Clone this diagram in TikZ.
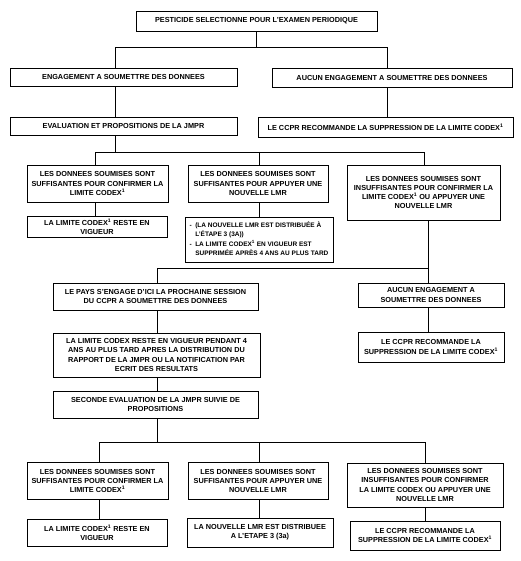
\documentclass[tikz,border=0pt]{standalone}
\usepackage{fontspec}
\setmainfont{Liberation Sans}
\begin{document}
\begin{tikzpicture}[x=1pt,y=-1pt,
  box/.style={draw, line width=0.9pt, inner sep=0pt, align=center,
    font=\fontsize{7.3}{9.3}\selectfont\bfseries},
  link/.style={line width=0.7pt}]
\fill[white] (0,0) rectangle (520,561);
\useasboundingbox (0,0) rectangle (520,561);
% level 1
\node[box, minimum width=241pt, minimum height=20pt] (top) at (256.5,21) {PESTICIDE SELECTIONNE POUR L'EXAMEN PERIODIQUE};
\node[box, minimum width=227pt, minimum height=18pt] (eng) at (123.5,77) {ENGAGEMENT A SOUMETTRE DES DONNEES};
\node[box, minimum width=240pt, minimum height=19pt] (aucun) at (392,77.5) {AUCUN ENGAGEMENT A SOUMETTRE DES DONNEES};
\node[box, minimum width=227pt, minimum height=18pt] (eval) at (123.5,126) {EVALUATION ET PROPOSITIONS DE LA JMPR};
\node[box, minimum width=255pt, minimum height=20pt] (ccpr1) at (385.5,127) {LE CCPR RECOMMANDE LA SUPPRESSION DE LA LIMITE CODEX\textsuperscript{1}};
% level 2
\node[box, minimum width=141pt, minimum height=37pt] (d1) at (97.5,183.5) {LES DONNEES SOUMISES SONT\\SUFFISANTES POUR CONFIRMER LA\\LIMITE CODEX\textsuperscript{1}};
\node[box, minimum width=140pt, minimum height=37pt] (d2) at (258,183.5) {LES DONNEES SOUMISES SONT\\SUFFISANTES POUR APPUYER UNE\\NOUVELLE LMR};
\node[box, minimum width=153pt, minimum height=55pt] (d3) at (423.5,192.5) {LES DONNEES SOUMISES SONT\\INSUFFISANTES POUR CONFIRMER LA\\LIMITE CODEX\textsuperscript{1} OU APPUYER UNE\\NOUVELLE LMR};
\node[box, minimum width=140pt, minimum height=21pt] (r1) at (97,226.5) {LA LIMITE CODEX\textsuperscript{1} RESTE EN\\VIGUEUR};
\node[box, minimum width=148pt, minimum height=45pt, font=\fontsize{6.5}{9.3}\selectfont\bfseries] (r2) at (259,239.5) {\begin{tabular}{@{}l@{\hspace{3.5pt}}l@{}}
-&(LA NOUVELLE LMR EST DISTRIBUÉE À\\
 &L'ÉTAPE 3 (3A))\\
-&LA LIMITE CODEX\textsuperscript{1} EN VIGUEUR EST\\
 &SUPPRIMÉE APRÈS 4 ANS AU PLUS TARD\end{tabular}};
% level 3
\node[box, minimum width=205pt, minimum height=27pt] (pays) at (155.5,296.5) {LE PAYS S'ENGAGE D'ICI LA PROCHAINE SESSION\\DU CCPR A SOUMETTRE DES DONNEES};
\node[box, minimum width=146pt, minimum height=24pt] (aucun2) at (431,295) {AUCUN ENGAGEMENT A\\SOUMETTRE DES DONNEES};
\node[box, minimum width=207pt, minimum height=44pt] (lim4) at (156.5,355) {LA LIMITE CODEX RESTE EN VIGUEUR PENDANT 4\\ANS AU PLUS TARD APRES LA DISTRIBUTION DU\\RAPPORT DE LA JMPR OU LA NOTIFICATION PAR\\ECRIT DES RESULTATS};
\node[box, minimum width=146pt, minimum height=30pt] (ccpr2) at (431,347) {LE CCPR RECOMMANDE LA\\SUPPRESSION DE LA LIMITE CODEX\textsuperscript{1}};
\node[box, minimum width=205pt, minimum height=27pt] (sec) at (155.5,404.5) {SECONDE EVALUATION DE LA JMPR SUIVIE DE\\PROPOSITIONS};
% level 4
\node[box, minimum width=141pt, minimum height=37pt] (e1) at (97.5,481) {LES DONNEES SOUMISES SONT\\SUFFISANTES POUR CONFIRMER LA\\LIMITE CODEX\textsuperscript{1}};
\node[box, minimum width=140pt, minimum height=37pt] (e2) at (258,481) {LES DONNEES SOUMISES SONT\\SUFFISANTES POUR APPUYER UNE\\NOUVELLE LMR};
\node[box, minimum width=156pt, minimum height=44pt] (e3) at (425,485) {LES DONNEES SOUMISES SONT\\INSUFFISANTES POUR CONFIRMER\\LA LIMITE CODEX OU APPUYER UNE\\NOUVELLE LMR};
\node[box, minimum width=140pt, minimum height=27pt] (f1) at (97,532.5) {LA LIMITE CODEX\textsuperscript{1} RESTE EN\\VIGUEUR};
\node[box, minimum width=146pt, minimum height=29pt] (f2) at (260,532.5) {LA NOUVELLE LMR EST DISTRIBUEE\\A L'ETAPE 3 (3a)};
\node[box, minimum width=150pt, minimum height=29pt] (f3) at (425,535.5) {LE CCPR RECOMMANDE LA\\SUPPRESSION DE LA LIMITE CODEX\textsuperscript{1}};
% junction coordinates
\coordinate (j1) at (115,47);
\coordinate (j2) at (387,47);
\coordinate (k1) at (95,152);
\coordinate (k2) at (259,152);
\coordinate (k3) at (424,152);
\coordinate (m1) at (157,268);
\coordinate (m2) at (428,268);
\coordinate (n1) at (99,442);
\coordinate (n2) at (259,442);
\coordinate (n3) at (425,442);
% connectors
\draw[link] (top.south) -- (top.south |- j1);
\draw[link] (eng.north -| j1) -- (j1) -- (j2) -- (aucun.north -| j2);
\draw[link] (eng.south -| j1) -- (eval.north -| j1);
\draw[link] (aucun.south -| j2) -- (ccpr1.north -| j2);
\draw[link] (eval.south -| j1) -- (j1 |- k1);
\draw[link] (d1.north -| k1) -- (k1) -- (k3) -- (d3.north -| k3);
\draw[link] (k2) -- (d2.north -| k2);
\draw[link] (d1.south -| k1) -- (r1.north -| k1);
\draw[link] (d2.south -| k2) -- (r2.north -| k2);
\draw[link] (d3.south -| m2) -- (m2) -- (m1) -- (pays.north -| m1);
\draw[link] (m2) -- (aucun2.north -| m2);
\draw[link] (pays.south -| m1) -- (lim4.north -| m1);
\draw[link] (lim4.south -| m1) -- (sec.north -| m1);
\draw[link] (aucun2.south -| m2) -- (ccpr2.north -| m2);
\draw[link] (sec.south -| m1) -- (m1 |- n1);
\draw[link] (e1.north -| n1) -- (n1) -- (n3) -- (e3.north -| n3);
\draw[link] (n2) -- (e2.north -| n2);
\draw[link] (e1.south -| n1) -- (f1.north -| n1);
\draw[link] (e2.south -| n2) -- (f2.north -| n2);
\draw[link] (e3.south -| n3) -- (f3.north -| n3);
\end{tikzpicture}
\end{document}
